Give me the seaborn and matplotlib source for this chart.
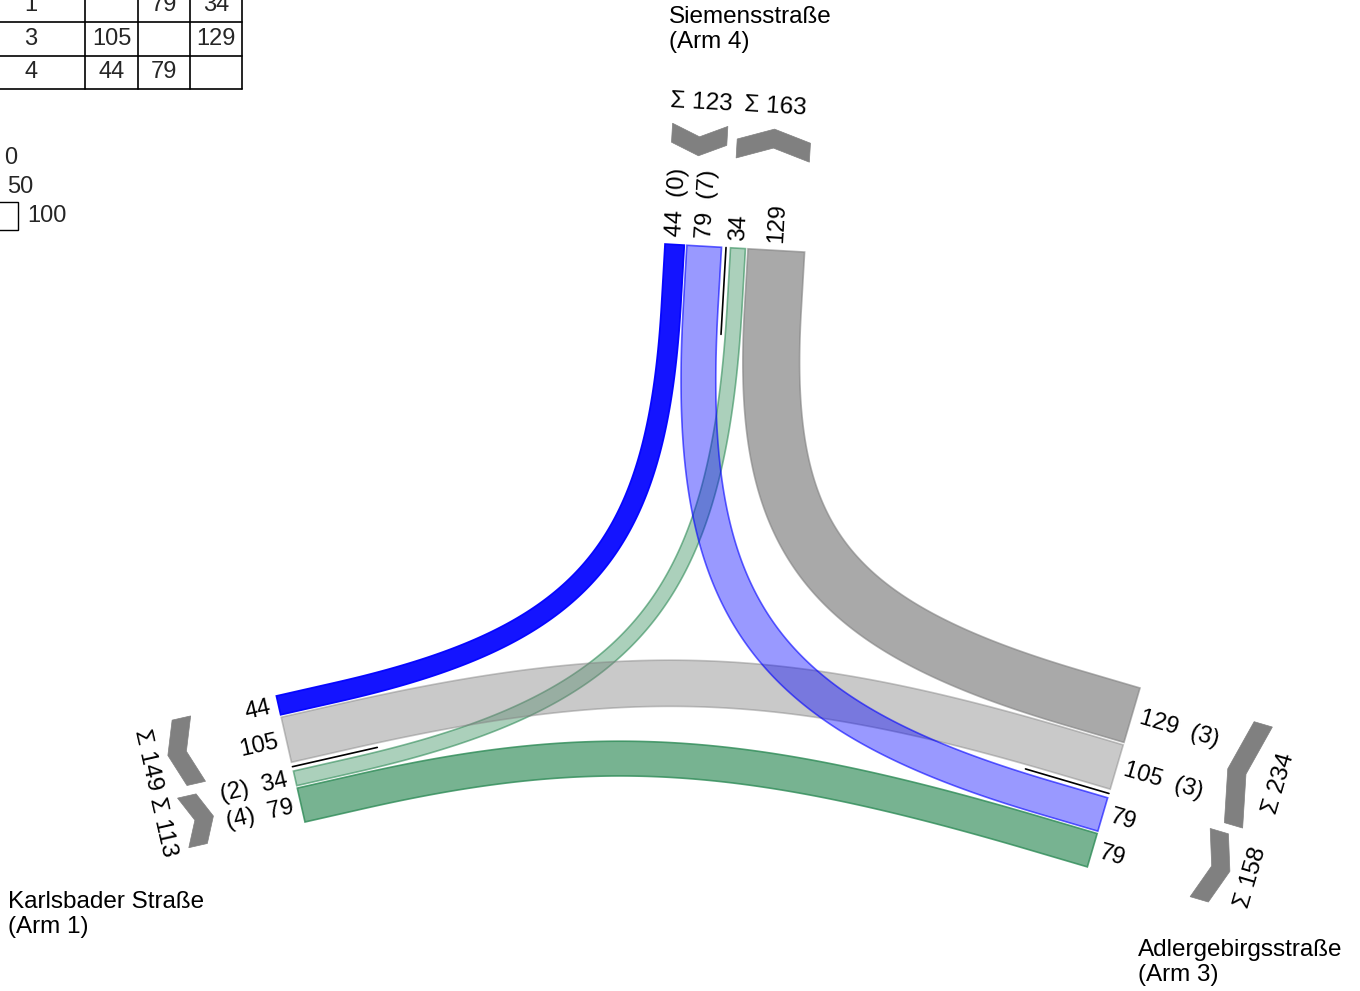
import numpy as np
import matplotlib
matplotlib.use("Agg")
import matplotlib.pyplot as plt
from matplotlib.patches import Polygon, Rectangle
import seaborn as sns

sns.set_theme(style="white")
plt.rcParams['font.family'] = ['Liberation Sans', 'DejaVu Sans']

# ---------------- data ----------------
arm_ids = [1, 3, 4]
arm_names = {1: "Karlsbader Straße\n(Arm 1)",
             3: "Adlergebirgsstraße\n(Arm 3)",
             4: "Siemensstraße\n(Arm 4)"}
flow_from = [1, 1, 3, 3, 4, 4]
flow_to = [3, 4, 1, 4, 1, 3]
flow_volume = [79, 34, 105, 129, 44, 79]
flow_heavy = [4, 2, 3, 3, 0, 7]
legend_values = [0, 50, 100]

# ---------------- styles / layout ----------------
blue = (0.0, 0.0, 1.0)
green = (46 / 255, 139 / 255, 87 / 255)
grey = (0.5, 0.5, 0.5)
flow_style = {  # face colour, face alpha, edge alpha
    (1, 3): (green, 0.65, 0.8),
    (1, 4): (green, 0.40, 0.6),
    (3, 1): (grey, 0.42, 0.45),
    (3, 4): (grey, 0.68, 0.6),
    (4, 1): (blue, 0.92, 0.95),
    (4, 3): (blue, 0.40, 0.6),
}
draw_order = [(3, 4), (4, 1), (1, 4), (3, 1), (4, 3), (1, 3)]

SCALE = 0.44      # px per vehicle
GAP = 2.5
SEP = 9.0
arm_anchor = {4: (665, 244), 1: (305, 822), 3: (1140, 688)}
arm_angle = {4: 93.3, 1: -12.8, 3: 196.4}
arm_order = {4: [(4, 1), (4, 3), 'sep', (1, 4), (3, 4)],
             1: [(1, 3), (1, 4), 'sep', (3, 1), (4, 1)],
             3: [(3, 4), (3, 1), 'sep', (4, 3), (1, 3)]}
chev_near = {4: 90, 1: 88, 3: 107}
sum_text_off = {4: 143, 1: 140, 3: 160}
name_pos = {4: (669, 6), 1: (8, 891), 3: (1138, 939)}

vol = {(f, t): v for f, t, v in zip(flow_from, flow_to, flow_volume)}
heavy = {(f, t): h for f, t, h in zip(flow_from, flow_to, flow_heavy)}


def unit(deg):
    r = np.radians(deg)
    return np.array([np.cos(r), np.sin(r)])


def rot(vec):
    return np.degrees(np.arctan2(-vec[1], vec[0]))


fig = plt.figure(figsize=(13.6, 9.91), dpi=100)
ax = fig.add_axes([0, 0, 1, 1])
ax.set_xlim(0, 1360)
ax.set_ylim(991, 0)
ax.axis('off')

# ---------------- band positions at each arm ----------------
arm_d, arm_e = {}, {}
band_center = {}
groups = {}
sep_pt = {}
for a in arm_ids:
    d = unit(arm_angle[a])
    e = np.array([d[1], -d[0]])
    arm_d[a], arm_e[a] = d, e
    A = np.array(arm_anchor[a], dtype=float)
    pos = 0.0
    grp = [[], []]
    gi = 0
    for it in arm_order[a]:
        if it == 'sep':
            sep_pt[a] = A + e * (pos - GAP + SEP / 2)
            pos += SEP - GAP
            gi = 1
            continue
        w = vol[it] * SCALE
        band_center[(a, it)] = (A + e * (pos + w / 2), w)
        grp[gi].append((pos, pos + w, it))
        pos += w + GAP
    groups[a] = grp


# ---------------- flows ----------------
def bezier_band(P0, dA, P1, dB, s0=60, f=0.78):
    Q0 = P0 + dA * s0
    Q1 = P1 + dB * s0
    M = np.column_stack([dA, -dB])
    try:
        ab = np.linalg.solve(M, Q1 - Q0)
    except np.linalg.LinAlgError:
        ab = np.array([-1, -1])
    if ab[0] > 0 and ab[1] > 0:
        LA, LB = f * ab[0], f * ab[1]
    else:
        LA = LB = 0.45 * np.linalg.norm(Q1 - Q0)
    C1 = Q0 + dA * LA
    C2 = Q1 + dB * LB
    t = np.linspace(0, 1, 240)[:, None]
    B = ((1 - t) ** 3) * Q0 + 3 * ((1 - t) ** 2) * t * C1 + 3 * (1 - t) * t ** 2 * C2 + t ** 3 * Q1
    return np.vstack([P0, B, P1])


for key in draw_order:
    f, t = key
    P0, w = band_center[(f, key)]
    P1, _ = band_center[(t, key)]
    c = bezier_band(P0, arm_d[f], P1, arm_d[t])
    tg = np.gradient(c, axis=0)
    tg /= np.linalg.norm(tg, axis=1)[:, None]
    nrm = np.column_stack([-tg[:, 1], tg[:, 0]])
    poly = np.vstack([c + nrm * w / 2, (c - nrm * w / 2)[::-1]])
    col, fa, ea = flow_style[key]
    ax.add_patch(Polygon(poly, closed=True, facecolor=(*col, fa),
                         edgecolor=(*col, ea), lw=1.2, zorder=2))

# ---------------- separators, labels, sums ----------------
for a in arm_ids:
    d, e = arm_d[a], arm_e[a]
    p = sep_pt[a]
    q = p + d * 87
    ax.plot([p[0], q[0]], [p[1], q[1]], color='black', lw=1.2, zorder=3)

    # band value labels
    outward_reads = (-d)[0] >= 0
    r = -d if outward_reads else d
    ha = 'left' if outward_reads else 'right'
    for it in arm_order[a]:
        if it == 'sep':
            continue
        P, w = band_center[(a, it)]
        txt = str(vol[it])
        if it[0] == a:
            if outward_reads:
                txt = f"{vol[it]}  ({heavy[it]})"
            else:
                txt = f"({heavy[it]})  {vol[it]}"
        L = P - d * 8
        ax.text(L[0], L[1], txt, rotation=rot(r), rotation_mode='anchor',
                ha=ha, va='center', fontsize=17, color='black', zorder=4)

    # sums with chevrons
    A = np.array(arm_anchor[a], dtype=float)
    re = e if e[0] > 0 else -e
    for grp in groups[a]:
        lo = grp[0][0]
        hi = grp[-1][1]
        G = A + e * (lo + hi) / 2
        total = sum(vol[it] for _, _, it in grp)
        outgoing = grp[0][2][0] == a
        tdir = d if outgoing else -d
        W = total * 0.45
        depth, th = 12, 19
        off = chev_near[a] + depth + th if outgoing else chev_near[a]
        c = G - d * off
        pts = [c - e * W / 2, c + tdir * depth, c + e * W / 2,
               c + e * W / 2 + tdir * th, c + tdir * (depth + th), c - e * W / 2 + tdir * th]
        ax.add_patch(Polygon(np.array(pts), closed=True, facecolor='#808080',
                             edgecolor='#808080', lw=0.5, zorder=3))
        T = G - d * sum_text_off[a]
        ax.text(T[0], T[1], f"Σ {total}", rotation=rot(re), rotation_mode='anchor',
                ha='center', va='center', fontsize=17.5, color='black')

    nx, ny = name_pos[a]
    ax.text(nx, ny, arm_names[a], ha='left', va='top', fontsize=17.5,
            linespacing=1.15, color='black')

# ---------------- OD table (top-left, partly cut as in the source) ----------------
col_edges = [-25, 85, 138, 190, 242]
row_edges = [-46, -12, 22, 56, 89]
for x in col_edges[1:]:
    ax.plot([x, x], [row_edges[0], row_edges[-1]], color='black', lw=1.2)
for y in row_edges[1:]:
    ax.plot([col_edges[0], col_edges[-1]], [y, y], color='black', lw=1.2)
for i, rid in enumerate(arm_ids):
    yc = (row_edges[i + 1] + row_edges[i + 2]) / 2
    ax.text(31, yc, str(rid), ha='center', va='center', fontsize=17)
    for j, cid in enumerate(arm_ids):
        xc = (col_edges[j + 1] + col_edges[j + 2]) / 2
        if (rid, cid) in vol:
            ax.text(xc, yc, str(vol[(rid, cid)]), ha='center', va='center', fontsize=17)

# ---------------- width legend ----------------
leg_text_x = [4, 7, 27]
leg_y = [158, 187, 216]
for v, lx, ly in zip(legend_values, leg_text_x, leg_y):
    if v == max(legend_values):
        ax.add_patch(Rectangle((lx - 9 - v * SCALE, ly - 14), v * SCALE, 28,
                               facecolor='white', edgecolor='black', lw=1.0))
    ax.text(lx, ly, str(v), ha='left', va='center', fontsize=17)

fig.savefig("out.png", dpi=100)
